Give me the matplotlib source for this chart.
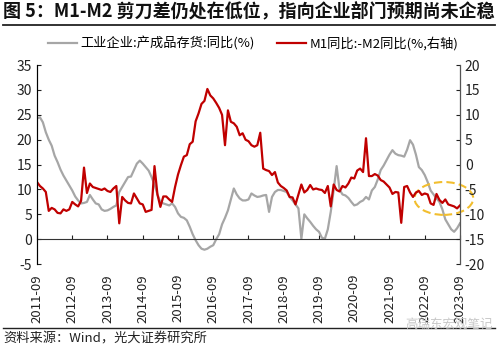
import matplotlib
matplotlib.use("Agg")
import matplotlib.pyplot as plt
from matplotlib.patches import Ellipse
import numpy as np

plt.rcParams['font.family'] = ['Noto Sans CJK SC', 'DejaVu Sans']
plt.rcParams['axes.unicode_minus'] = False

# x tick labels (one per year, monthly data from 2011-09 to 2023-09)
tick_labels = ['2011-09', '2012-09', '2013-09', '2014-09', '2015-09', '2016-09',
               '2017-09', '2018-09', '2019-09', '2020-09', '2021-09', '2022-09',
               '2023-09']

# 工业企业:产成品存货:同比(%), left axis
inventory = [
    24.3, 24.5, 23.5, 21.5, 20.0, 18.8, 16.8, 15.5, 14.0, 12.8, 11.8, 10.8,
    9.8, 8.6, 7.8, 7.2, 7.3, 7.5, 8.9, 8.0, 7.2, 7.0, 6.0, 5.7,
    5.8, 6.1, 6.5, 6.8, 9.5, 10.5, 11.5, 12.5, 12.6, 13.9, 15.2, 15.8,
    15.2, 14.5, 13.8, 12.5, 11.0, 9.0, 7.5, 7.2, 7.0, 6.8, 7.2, 6.5,
    5.2, 4.5, 4.3, 3.8, 2.5, 1.0, -0.2, -1.2, -1.9, -2.1, -1.9, -1.5,
    -1.2, 0.0, 1.0, 3.0, 4.3, 5.8, 8.0, 10.2, 9.0, 8.2, 7.8, 7.8,
    8.0, 9.2, 8.8, 8.5, 8.6, 8.8, 8.9, 5.5, 8.5, 9.5, 9.9, 9.9,
    9.7, 9.5, 8.5, 7.8, 7.0, 6.2, 0.1, 5.0, 4.2, 3.5, 2.7, 2.0,
    1.5, 0.3, 0.1, 2.0, 5.5, 9.9, 14.7, 10.0, 9.0, 8.8, 8.3, 7.5,
    6.8, 7.0, 7.5, 7.8, 8.5, 8.0, 9.8, 10.5, 12.0, 13.9, 14.8, 15.9,
    17.0, 17.9, 17.2, 16.9, 16.8, 16.6, 18.0, 19.9, 19.0, 17.0, 14.5, 13.9,
    12.9, 11.5, 9.8, 9.0, 8.2, 7.5, 6.0, 4.0, 3.0, 2.0, 1.5, 2.2,
    3.2,
]

# M1同比-M2同比(%), right axis
m1_m2 = [
    -3.5, -4.3, -4.8, -5.5, -9.3, -8.7, -9.0, -9.7, -9.8, -9.0, -9.3, -9.0,
    -7.5, -8.0, -8.4, -7.3, -0.6, -5.7, -3.8, -4.5, -4.7, -4.9, -5.1, -4.8,
    -5.3, -5.5, -4.8, -4.3, -11.8, -6.5, -7.2, -7.7, -7.8, -5.8, -6.8, -7.8,
    -8.0, -9.5, -9.3, -9.1, -0.3, -6.0, -8.5, -6.4, -6.4, -7.0, -7.5, -4.5,
    -2.0, -0.1, 1.6, 1.9, 4.1, 4.6, 8.7, 10.3, 12.2, 12.8, 15.2, 13.9,
    13.3, 12.4, 11.4, 10.0, 3.9, 10.9, 8.6, 8.3, 7.6, 5.9, 6.3, 5.0,
    4.7, 3.9, 3.6, 3.9, 6.4, -0.8, -1.1, -1.3, -2.1, -1.5, -3.6, -4.3,
    -4.7, -5.2, -6.5, -6.6, -8.0, -6.0, -4.0, -5.6, -5.1, -4.1, -5.0, -4.8,
    -5.0, -5.1, -5.7, -4.3, -8.4, -4.0, -5.1, -5.4, -4.3, -4.6, -3.8, -2.6,
    -2.8, -1.2, -0.8, -1.5, 5.3, -2.3, -2.3, -1.9, -2.2, -3.1, -3.4, -4.0,
    -4.6, -5.9, -5.5, -5.6, -11.7, -4.5, -4.3, -5.6, -6.5, -5.6, -5.3, -6.1,
    -5.8, -6.0, -7.8, -8.1, -5.9, -7.1, -7.7, -7.0, -8.0, -8.2, -8.4, -8.8,
    -8.2,
]

months = np.arange(len(inventory))

fig = plt.figure(figsize=(5.0, 3.48), dpi=100)
ax = fig.add_axes([0.074, 0.241, 0.846, 0.572])
ax2 = ax.twinx()

gray = '#A6A6A6'
red = '#C00000'

l1, = ax.plot(months, inventory, color=gray, lw=1.6, label='工业企业:产成品存货:同比(%)')
l2, = ax2.plot(months, m1_m2, color=red, lw=1.6, label='M1同比:-M2同比(%,右轴)')

ax.set_xlim(0, 144)
ax.set_ylim(-5, 35)
ax2.set_ylim(-20, 20)
ax.set_yticks(range(-5, 36, 5))
ax2.set_yticks(range(-20, 21, 5))
ax.set_xticks(range(0, 145, 12))
ax.set_xticklabels(tick_labels)

for a in (ax, ax2):
    a.spines['top'].set_visible(False)
    a.spines['bottom'].set_visible(False)
ax.spines['bottom'].set_visible(True)
ax.spines['bottom'].set_position(('data', 0))
ax.spines['left'].set_color('#333333')
ax2.spines['right'].set_color('#555555')
ax.spines['bottom'].set_color('#333333')

ax.tick_params(axis='x', direction='in', length=3, pad=25, labelsize=9.5,
               colors='#222222', labelrotation=90)
ax.tick_params(axis='y', direction='in', length=3, labelsize=10, colors='#222222')
ax2.tick_params(axis='y', direction='in', length=3, labelsize=10, colors='#222222')

# highlight recent low
ell = Ellipse((138.5, 8.2), 20, 6.6, fill=False, ls=(0, (4, 2)), lw=1.5,
              edgecolor='#F2BE2E', clip_on=False, zorder=5)
ax.add_patch(ell)

fig.legend(handles=[l1, l2], loc='center', bbox_to_anchor=(0.507, 0.874), ncol=2,
           frameon=False, fontsize=9.5, handlelength=2.2, columnspacing=1.7,
           handletextpad=0.25)

fig.text(0.006, 0.968, '图 5：M1-M2 剪刀差仍处在低位，指向企业部门预期尚未企稳',
         fontsize=13, fontweight='bold', va='center', ha='left', color='#111111')
fig.add_artist(plt.Line2D([0.006, 0.99], [0.928, 0.928], color='#222222', lw=1.3))
fig.add_artist(plt.Line2D([0.006, 0.99], [0.057, 0.057], color='#222222', lw=1.0))
fig.text(0.006, 0.025, '资料来源：Wind，光大证券研究所', fontsize=9.5, va='center',
         ha='left', color='#222222')
fig.text(0.985, 0.068, '高瑞东宏观笔记', fontsize=9, va='center', ha='right',
         color='#C8C8C8')

fig.savefig('out.png', dpi=100)
